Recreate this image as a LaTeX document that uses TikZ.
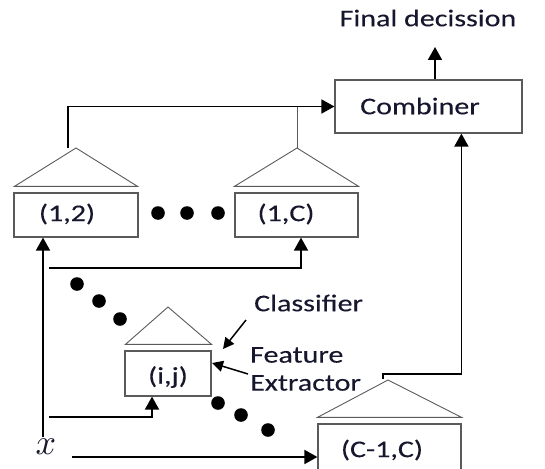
\documentclass[tikz,border=0pt]{standalone}
\usepackage{fontspec}
\usepackage{graphicx}
\setmainfont{Carlito}[FakeStretch=1.25,FakeBold=0.2]
\usetikzlibrary{arrows.meta,calc}
\definecolor{ink}{RGB}{22,22,45}
\definecolor{frame}{RGB}{90,90,90}
\begin{document}
\begin{tikzpicture}[x=1pt,y=-1pt,
  txt/.style={text=ink,inner sep=0pt,font=\fontsize{24}{28}\selectfont},
  box/.style={draw=frame,line width=1.2pt,inner sep=0pt},
  tri/.style={draw=frame,line width=0.9pt},
  conn/.style={line width=1.8pt,black},
  thinconn/.style={line width=1pt,frame},
  arr/.style={conn,-{Triangle[length=13pt,width=14pt]}},
  ptr/.style={line width=1.5pt,black,-{Triangle[length=11pt,width=11pt]}},
  dot/.style={fill=black}]
\clip (0,0) rectangle (545,468);
\useasboundingbox (0,0) rectangle (545,468);

% combiner and final output
\node[txt] (final) at (428,18) {Final decission};
\node[box,minimum width=187pt,minimum height=53pt] (comb) at (428.5,106.5) {};
\node[txt] at (420,106) {Combiner};
\coordinate (fdtip) at (435,47);
\draw[arr] (comb.north -| fdtip) -- (fdtip);

% pairwise classifier blocks
\node[box,minimum width=124pt,minimum height=44pt] (b12) at (76,215) {};
\node[txt] at (67,214) {(1,2)};
\node[box,minimum width=123pt,minimum height=44pt] (b1C) at (296.5,215) {};
\node[txt] at (286,214) {(1,C)};
\node[box,minimum width=86pt,minimum height=45pt] (bij) at (168,373.5) {};
\node[txt] at (168,377) {(i,j)};
\node[box,minimum width=143pt,minimum height=66pt] (bC) at (389.5,457) {};
\node[txt] at (382,450) {(C-1,C)};

% classifier triangles on top of each block
\coordinate (a12) at (76,148);
\coordinate (a1C) at (297,148);
\coordinate (aij) at (168,307);
\coordinate (aC) at (388,380);
\draw[tri] ($(b12.north west)+(1,-6)$) -- (a12) -- ($(b12.north east)+(-1,-6)$) -- cycle;
\draw[tri] ($(b1C.north west)+(0,-6)$) -- (a1C) -- ($(b1C.north east)+(0,-6)$) -- cycle;
\draw[tri] ($(bij.north west)+(1,-6)$) -- (aij) -- ($(bij.north east)+(0,-6)$) -- cycle;
\draw[tri] ($(bC.north west)+(0,-6)$) -- (aC) -- ($(bC.north east)+(0,-6)$) -- cycle;

% classifier outputs to the combiner
\draw[arr] ($(a12)+(-8,0)$) |- (comb.west);
\draw[thinconn] (a1C) -- (a1C |- comb.west);
\coordinate (cin) at ($(comb.south west)+(127,0)$);
\draw[arr] ($(aC)+(-5,-1)$) -- ++(0,-5) -| (cin);

% input sample and its distribution
\node[text=ink,inner sep=0pt] (xin) at (46,447) {\scalebox{3.6}{$x$}};
\coordinate (xv) at (43,437);
\coordinate (t1C) at (49,268);
\coordinate (tij) at (49,417);
\coordinate (tC) at (72,457);
\draw[arr] (xv) -- (xv |- b12.south);
\draw[arr] (t1C) -| ($(b1C.south)+(4.5,0)$);
\draw[arr] (tij) -| ($(bij.south)+(-16,0)$);
\draw[arr] (tC) -- (tC -| bC.west);

% ellipsis dots
\foreach \p in {(158,213),(187,213),(218,213),(77,284),(99,301),(120,319),(218,403),(241,415),(268,430)}
  \fill[dot] \p circle (6.8);

% annotations
\node[txt,anchor=west] (cls) at (254,303) {Classifier};
\node[txt,anchor=west,align=left] (fe) at (250,369) {Feature\\Extractor};
\coordinate (clsfrom) at (246,320);
\coordinate (clsto) at (223,349);
\coordinate (fefrom) at (248,374);
\coordinate (feto) at (212,363);
\draw[ptr] (clsfrom) -- (clsto);
\draw[ptr] (fefrom) -- (feto);
\end{tikzpicture}
\end{document}
